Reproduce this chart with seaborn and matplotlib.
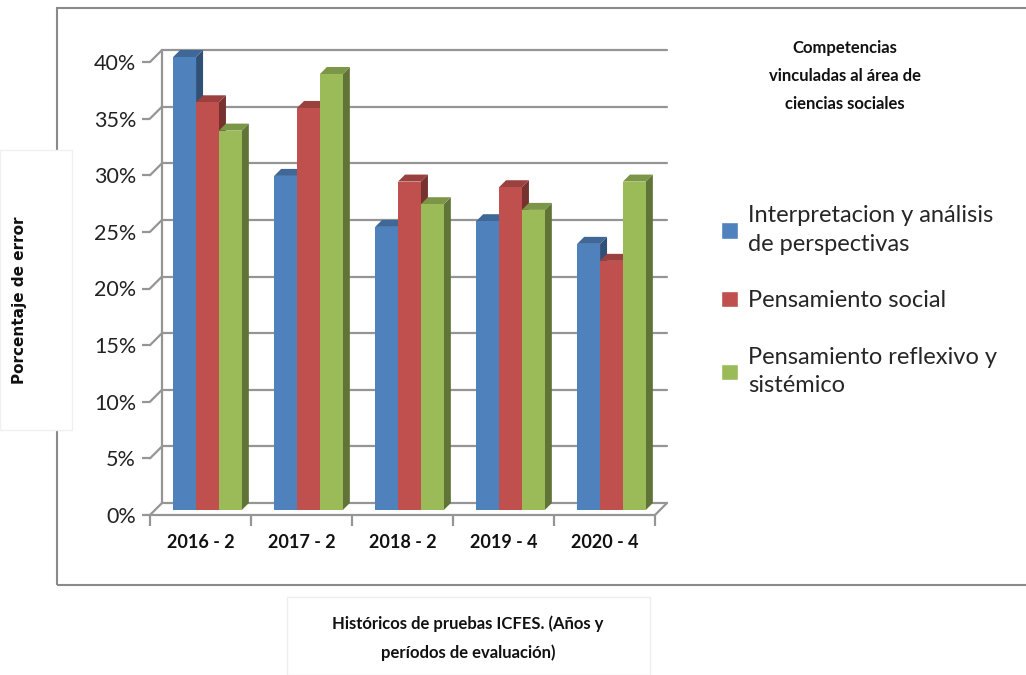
import numpy as np
import pandas as pd
import matplotlib
matplotlib.use('Agg')
import matplotlib.pyplot as plt
import matplotlib.colors as mcolors
from matplotlib.patches import Polygon, Rectangle
from matplotlib.transforms import ScaledTranslation
import seaborn as sns

periodos = ['2016 - 2', '2017 - 2', '2018 - 2', '2019 - 4', '2020 - 4']
competencias = ['Interpretacion y análisis\nde perspectivas',
                'Pensamiento social',
                'Pensamiento reflexivo y\nsistémico']
interpretacion = [40.0, 29.5, 25.0, 25.5, 23.5]
pensamiento_social = [36.0, 35.5, 29.0, 28.5, 22.0]
pensamiento_reflexivo = [33.5, 38.5, 27.0, 26.5, 29.0]
yticks = [0, 5, 10, 15, 20, 25, 30, 35, 40]

colores = ['#4F81BD', '#C0504D', '#9BBB59']

df = pd.DataFrame({
    'periodo': periodos * 3,
    'competencia': np.repeat(competencias, len(periodos)),
    'error': interpretacion + pensamiento_social + pensamiento_reflexivo,
})

sns.set_style('white')
narrow = ['Liberation Sans Narrow', 'Lato', 'DejaVu Sans']
plt.rcParams['font.family'] = ['Lato', 'DejaVu Sans']

fig = plt.figure(figsize=(10.26, 6.75), dpi=100)
W, H = 1026, 675
ax = fig.add_axes([150 / W, 1 - 515 / H, 505 / W, 453 / H])

sns.barplot(data=df, x='periodo', y='error', hue='competencia', palette=colores,
            width=0.68, gap=0, saturation=1, ax=ax, legend=False, zorder=3,
            edgecolor='none', linewidth=0)
ax.set_xlim(-0.5, 4.5)
ax.set_ylim(0, 40)

bars = list(ax.patches)

# bars sit half way into the depth of the "3D" box
shift = ScaledTranslation(7 / 100, 5 / 100, fig.dpi_scale_trans)
bar_tr = ax.transData + shift

d = 7
inv = ax.transData.inverted()
for p in bars:
    p.set_transform(bar_tr)
    p.set_clip_on(False)
    x0, w, h = p.get_x(), p.get_width(), p.get_height()
    X0, Y0 = ax.transData.transform((x0, 0))
    X1, Y1 = ax.transData.transform((x0 + w, h))
    X0, X1, Y0, Y1 = X0 + 7, X1 + 7, Y0 + 5, Y1 + 5
    dark = tuple(np.array(mcolors.to_rgb(p.get_facecolor())) * 0.62)
    mid = tuple(np.array(mcolors.to_rgb(p.get_facecolor())) * 0.8)
    side = inv.transform([(X1, Y0), (X1 + d, Y0 + d), (X1 + d, Y1 + d), (X1, Y1)])
    top = inv.transform([(X0, Y1), (X0 + d, Y1 + d), (X1 + d, Y1 + d), (X1, Y1)])
    ax.add_patch(Polygon(side, closed=True, facecolor=dark, edgecolor='none',
                         zorder=2.5, clip_on=False))
    ax.add_patch(Polygon(top, closed=True, facecolor=mid, edgecolor='none',
                         zorder=2.5, clip_on=False))

# back wall grid
D = 12
back = ax.transData + ScaledTranslation(D / 100, D / 100, fig.dpi_scale_trans)
grid_c = '#959595'
for t in yticks:
    ax.plot([-0.5, 4.5], [t, t], color=grid_c, lw=1.6, transform=back,
            zorder=1, clip_on=False)
    Xa, Ya = ax.transData.transform((-0.5, t))
    seg = inv.transform([(Xa, Ya), (Xa + D, Ya + D)])
    ax.plot(seg[:, 0], seg[:, 1], color=grid_c, lw=1.6, zorder=1, clip_on=False)
ax.plot([-0.5, -0.5], [0, 40], color=grid_c, lw=1.6, transform=back,
        zorder=1, clip_on=False)
# floor front edge
ax.plot([-0.5, 4.5], [0, 0], color=grid_c, lw=1.6, zorder=4, clip_on=False)
Xr, Yr = ax.transData.transform((4.5, 0))
seg = inv.transform([(Xr, Yr), (Xr + D, Yr + D)])
ax.plot(seg[:, 0], seg[:, 1], color=grid_c, lw=1.6, zorder=1, clip_on=False)

for s in ax.spines.values():
    s.set_visible(False)

ax.set_yticks(yticks)
ax.set_yticklabels([f'{t}%' for t in yticks], fontsize=15.5, color='#222222')
ax.tick_params(axis='y', length=6, width=1.6, color=grid_c, pad=4, left=True)
ax.set_xticks(range(len(periodos)))
ax.set_xticklabels(periodos, fontsize=13, fontweight='bold', family=narrow,
                   color='#111111')
ax.set_xticks(np.arange(-0.5, 5, 1), minor=True)
ax.tick_params(axis='x', which='major', length=0, pad=14)
ax.tick_params(axis='x', which='minor', length=8, width=1.6, color=grid_c,
               bottom=True)
ax.set_xlabel('')
ax.set_ylabel('')
ax.patch.set_alpha(0)

# legend
handles = [Rectangle((0, 0), 1, 1, facecolor=c) for c in colores]
leg = fig.legend(handles, competencias, loc='upper left',
                 bbox_to_anchor=(700 / W, 1 - 184 / H), frameon=False,
                 fontsize=17, handlelength=0.7, handleheight=0.7,
                 handletextpad=0.45, labelspacing=1.5)
for t in leg.get_texts():
    t.set_linespacing(1.45)
fig.text(845 / W, 1 - 76 / H, 'Competencias\nvinculadas al área de\nciencias sociales',
         ha='center', va='center', fontsize=12, fontweight='bold',
         family=narrow, linespacing=1.9, color='#111111')

# outer frame and label boxes
fig.patches.append(Rectangle((57 / W, 1 - 585 / H), 1000 / W, 577 / H,
                             transform=fig.transFigure, fill=False,
                             edgecolor='#8a8a8a', lw=1.5, zorder=0))
fig.patches.append(Rectangle((0, 1 - 430 / H), 72 / W, 280 / H,
                             transform=fig.transFigure, facecolor='white',
                             edgecolor='#f0f0f0', lw=1, zorder=1))
fig.patches.append(Rectangle((287 / W, 1 - 675 / H), 363 / W, 78 / H,
                             transform=fig.transFigure, facecolor='white',
                             edgecolor='#eeeeee', lw=1, zorder=1))
fig.text(20 / W, 1 - 300 / H, 'Porcentaje de error', rotation=90,
         ha='center', va='center', fontsize=11, fontweight='bold',
         family=['DejaVu Sans'], color='#111111')
fig.text(468 / W, 1 - 638 / H,
         'Históricos de pruebas ICFES. (Años y\nperíodos de evaluación)',
         ha='center', va='center', fontsize=12, fontweight='bold',
         family=narrow, linespacing=1.9, color='#111111')

fig.savefig('out.png', dpi=100)
